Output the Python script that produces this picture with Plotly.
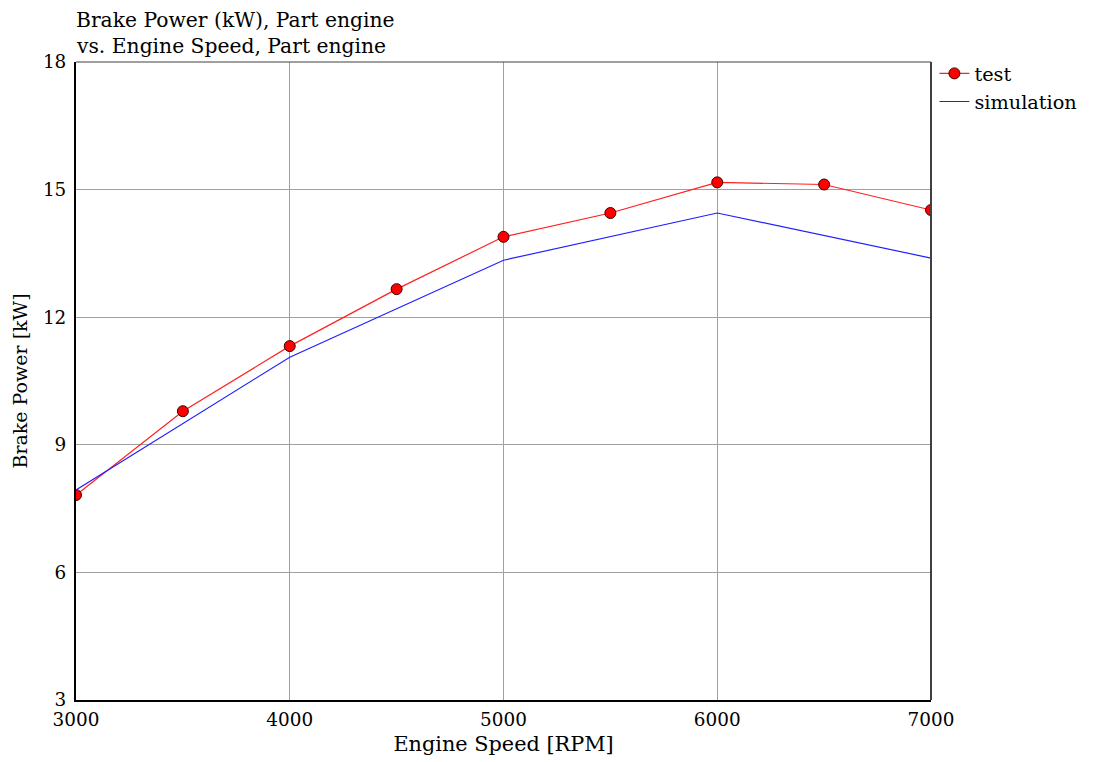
import plotly.graph_objects as go

speed_test = [3000, 3500, 4000, 4500, 5000, 5500, 6000, 6500, 7000]
power_test = [7.82, 9.79, 11.32, 12.66, 13.89, 14.45, 15.17, 15.12, 14.52]
speed_sim = [3000, 4000, 5000, 6000, 7000]
power_sim = [7.94, 11.06, 13.34, 14.45, 13.39]

x_ticks = [3000, 4000, 5000, 6000, 7000]
y_ticks = [3, 6, 9, 12, 15, 18]

FONT = "DejaVu Serif, serif"

fig = go.Figure()
fig.add_trace(go.Scatter(
    x=speed_test, y=power_test, mode="lines+markers", name="test",
    line=dict(color="#ff2020", width=1.2),
    marker=dict(color="#ff0000", size=11, symbol="circle",
                line=dict(color="#400000", width=1)),
))
fig.add_trace(go.Scatter(
    x=speed_sim, y=power_sim, mode="lines", name="simulation",
    line=dict(color="#2020ff", width=1.2),
))

fig.update_layout(
    width=1094, height=762,
    paper_bgcolor="white", plot_bgcolor="white",
    margin=dict(l=68, r=171, t=54, b=70),
    font=dict(family=FONT, size=18, color="black"),
    showlegend=True,
    legend=dict(x=1.004, y=1.012, xanchor="left", yanchor="top",
                font=dict(family=FONT, size=19.3, color="black"),
                bgcolor="rgba(0,0,0,0)", tracegroupgap=0,
                itemwidth=30),
    xaxis=dict(
        range=[3000, 7000], tickvals=x_ticks, ticktext=[str(v) for v in x_ticks],
        showgrid=True, gridcolor="#a0a0a0", gridwidth=1,
        showline=True, linecolor="black", linewidth=2, mirror=False,
        ticks="", zeroline=False, ticklabelstandoff=2,
        title=dict(text="Engine Speed [RPM]", font=dict(family=FONT, size=20.8), standoff=7),
        tickfont=dict(family=FONT, size=18.4),
    ),
    yaxis=dict(
        range=[3, 18], tickvals=y_ticks, ticktext=[str(v) for v in y_ticks],
        showgrid=True, gridcolor="#a0a0a0", gridwidth=1,
        showline=True, linecolor="black", linewidth=2, mirror=False,
        ticks="", zeroline=False, ticklabelstandoff=4,
        title=dict(text="Brake Power [kW]", font=dict(family=FONT, size=19), standoff=10),
        tickfont=dict(family=FONT, size=18.4),
    ),
    shapes=[
        dict(type="line", xref="paper", yref="paper", x0=0, x1=1, y0=1, y1=1,
             line=dict(color="#404040", width=1)),
        dict(type="line", xref="paper", yref="paper", x0=1, x1=1, y0=0, y1=1,
             line=dict(color="#404040", width=2)),
    ],
    annotations=[
        dict(text="Brake Power (kW), Part engine",
             xref="paper", yref="paper", x=-0.002, y=1 + 42 / 638, xanchor="left", yanchor="middle",
             align="left", showarrow=False,
             font=dict(family=FONT, size=20.3, color="black")),
        dict(text="vs. Engine Speed, Part engine",
             xref="paper", yref="paper", x=-0.002, y=1 + 16 / 638, xanchor="left", yanchor="middle",
             align="left", showarrow=False,
             font=dict(family=FONT, size=20.3, color="black")),
    ],
)

fig.write_html("out.html")
